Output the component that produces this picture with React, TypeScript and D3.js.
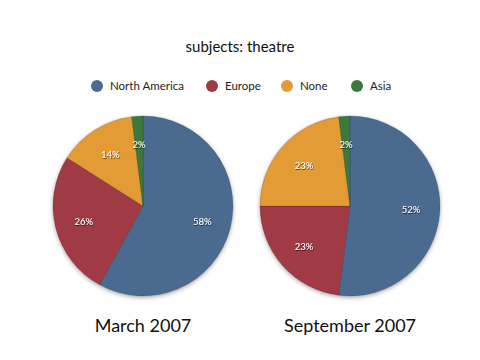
import React from "react";
import * as d3 from "d3";

const categories = ["North America", "Europe", "None", "Asia"];
const colors = ["#4b6b90", "#a03a45", "#e39c34", "#3c783c"];
const periods = ["March 2007", "September 2007"];
const march2007 = [58, 26, 14, 2];
const september2007 = [52, 23, 23, 2];
const seriesValues = [march2007, september2007];

const W = 480;
const H = 360;
const R = 90;
const centersX = [143, 350];
const centerY = 206;
const legendX = [97, 212, 287, 357];

export default function App() {
  const pie = d3
    .pie<number>()
    .sort(null)
    .value((d) => d)
    .startAngle(0)
    .endAngle(2 * Math.PI);
  const arc = d3.arc<d3.PieArcDatum<number>>().innerRadius(0).outerRadius(R);
  const labelArc = d3
    .arc<d3.PieArcDatum<number>>()
    .innerRadius(R * 0.68)
    .outerRadius(R * 0.68);
  const font = "'Lato', 'Open Sans', sans-serif";

  return (
    <svg
      width={W}
      height={H}
      style={{ position: "absolute", left: 0, top: 0, background: "#fff" }}
    >
      <defs>
        <filter id="shadow" x="-20%" y="-20%" width="140%" height="140%">
          <feDropShadow dx="0" dy="1.5" stdDeviation="2" floodColor="#000" floodOpacity="0.35" />
        </filter>
        <filter id="tshadow" x="-20%" y="-40%" width="140%" height="180%">
          <feDropShadow dx="0.5" dy="0.8" stdDeviation="0.6" floodColor="#000" floodOpacity="0.8" />
        </filter>
      </defs>
      <text
        x={240}
        y={52}
        textAnchor="middle"
        fontFamily={font}
        fontSize={15}
        fill="#111"
      >
        subjects: theatre
      </text>
      {categories.map((c, i) => (
        <g key={c}>
          <circle cx={legendX[i]} cy={86} r={6} fill={colors[i]} />
          <text
            x={legendX[i] + 13}
            y={90}
            fontFamily={font}
            fontSize={11.5}
            fill="#222"
          >
            {c}
          </text>
        </g>
      ))}
      {seriesValues.map((vals, k) => {
        const arcs = pie(vals);
        return (
          <g key={k} transform={`translate(${centersX[k]},${centerY})`}>
            <g filter="url(#shadow)">
              {arcs.map((a, i) => (
                <path
                  key={i}
                  d={arc(a) || ""}
                  fill={colors[i]}
                  stroke="rgba(0,0,0,0.25)"
                  strokeWidth={0.6}
                />
              ))}
            </g>
            {arcs.map((a, i) => {
              const [lx, ly] = labelArc.centroid(a);
              return (
                <text
                  key={"l" + i}
                  x={lx}
                  y={ly}
                  dy="0.35em"
                  textAnchor="middle"
                  fontFamily={font}
                  fontSize={9.5}
                  fill="#fff"
                  filter="url(#tshadow)"
                >
                  {vals[i]}%
                </text>
              );
            })}
            <text
              x={0}
              y={126}
              textAnchor="middle"
              fontFamily={font}
              fontSize={18}
              fill="#111"
            >
              {periods[k]}
            </text>
          </g>
        );
      })}
    </svg>
  );
}
